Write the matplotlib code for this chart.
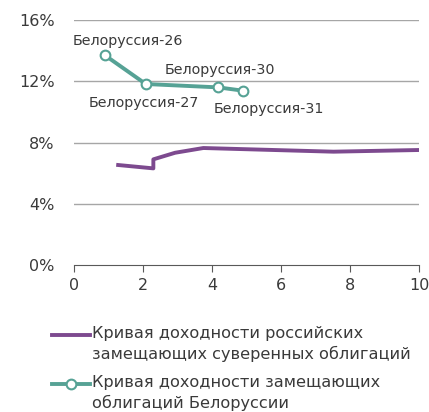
import matplotlib.pyplot as plt
from matplotlib.lines import Line2D
from matplotlib.ticker import FuncFormatter

plt.rcParams['font.family'] = ['DejaVu Sans']

# Кривая доходности российских замещающих облигаций
rus_x = [1.28, 2.30, 2.30, 2.93, 3.75, 7.52, 10.0]
rus_y = [6.53, 6.31, 6.90, 7.33, 7.64, 7.40, 7.51]

# Белоруссия
bel_x = [0.90, 2.08, 4.18, 4.91]
bel_y = [13.69, 11.82, 11.60, 11.38]
bel_names = ['Белоруссия-26', 'Белоруссия-27', 'Белоруссия-30', 'Белоруссия-31']
label_x = [1.57, 2.03, 4.23, 5.65]
label_y = [14.37, 10.35, 12.47, 9.93]

legend_labels = ['Кривая доходности российских\nзамещающих суверенных облигаций',
                 'Кривая доходности замещающих\nоблигаций Белоруссии']

purple = '#7d4a8f'
teal = '#56a295'
text_col = '#3a3a3a'
W, H = 429, 412

fig = plt.figure(figsize=(W / 100, H / 100), dpi=100)
ax = fig.add_axes([74 / W, 1 - 265 / H, 345 / W, 245 / H])

ax.plot(rus_x, rus_y, color=purple, lw=2.8)
ax.plot(bel_x, bel_y, color=teal, lw=2.8, marker='o', ms=7, mfc='white',
        mec=teal, mew=1.5)

for name, lx, ly in zip(bel_names, label_x, label_y):
    ax.text(lx, ly, name, ha='center', va='baseline', fontsize=10.3, color=text_col)

ax.set_xlim(0, 10)
ax.set_ylim(0, 16)
ax.set_xticks([0, 2, 4, 6, 8, 10])
ax.set_yticks([0, 4, 8, 12, 16])
ax.yaxis.set_major_formatter(FuncFormatter(lambda v, p: '%d%%' % v))
for y in [4, 8, 12, 16]:
    ax.axhline(y, color='#a6a6a6', lw=1, zorder=0)

for s in ['top', 'right', 'left']:
    ax.spines[s].set_visible(False)
ax.spines['bottom'].set_color('#595959')
ax.tick_params(axis='x', length=5, color='#595959', labelsize=11.5, labelcolor=text_col, pad=4)
ax.tick_params(axis='y', length=0, labelsize=11.5, labelcolor=text_col, pad=14)

# legend drawn by hand: handle aligned to the first text line
handles = [dict(color=purple), dict(color=teal, marker='o', ms=7, mfc='white', mec=teal, mew=1.5)]
tops = [326, 375]
for h, top, lab in zip(handles, tops, legend_labels):
    yline = 1 - (top + 9) / H
    fig.add_artist(Line2D([52 / W, 90 / W], [yline, yline], lw=2.8,
                          transform=fig.transFigure, markevery=[], **h))
    if 'marker' in h:
        fig.add_artist(Line2D([71 / W], [yline], lw=0, transform=fig.transFigure, **h))
    fig.text(92 / W, 1 - top / H, lab, ha='left', va='top', fontsize=11.6,
             color=text_col, linespacing=1.35)

fig.savefig('out.png', dpi=100)
